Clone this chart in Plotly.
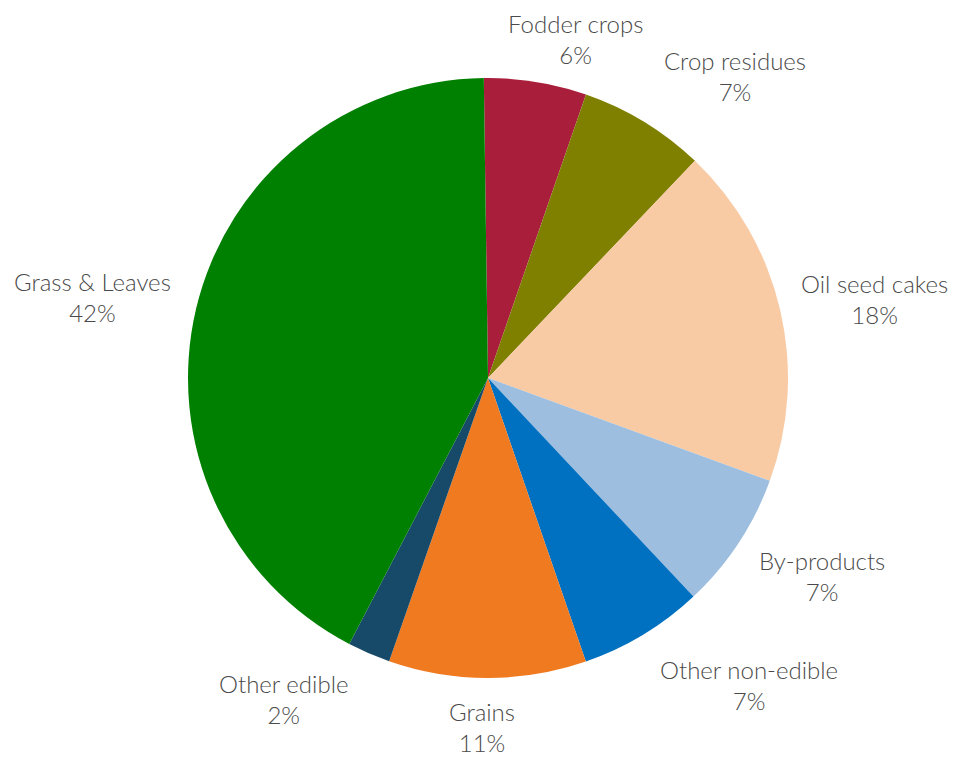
import math
import plotly.graph_objects as go

categories = ["Fodder crops", "Crop residues", "Oil seed cakes", "By-products",
              "Other non-edible", "Grains", "Other edible", "Grass & Leaves"]
values = [5.5, 6.8, 18.4, 7.4, 6.7, 10.6, 2.3, 42.0]
colors = ["#A91E3B", "#808000", "#F8CBA5", "#9DBEDF",
          "#0070C0", "#F07A20", "#174A68", "#008000"]

# label placement (layout only): radius from centre and pixel nudges
label_radius = 380
label_nudges = [(27, 36), (49, 23), (16, 8), (17, -11),
                (65, -18), (-5, -31), (-54, -28), (-26, 7)]

W, H = 960, 757
cx, cy, R = 480, 370, 300
rotation = -0.8

fig = go.Figure(go.Pie(
    labels=categories,
    values=values,
    sort=False,
    direction="clockwise",
    rotation=rotation,
    marker=dict(colors=colors, line=dict(width=0)),
    textinfo="none",
    domain=dict(x=[(cx - R) / W, (cx + R) / W], y=[(H - cy - R) / H, (H - cy + R) / H]),
    hoverinfo="label+percent",
))

total = sum(values)
cum = 0.0
annotations = []
for name, v, (nx, ny) in zip(categories, values, label_nudges):
    mid = math.radians(rotation) + (cum + v / 2) / total * 2 * math.pi
    cum += v
    px = cx + label_radius * math.sin(mid) + nx
    py = cy - label_radius * math.cos(mid) + ny
    pct = round(v / total * 100)
    annotations.append(dict(
        x=px / W, y=1 - py / H, xref="paper", yref="paper",
        xanchor="center", yanchor="middle",
        text=f"{name}<br>{pct}%", showarrow=False, align="center",
        borderpad=0,
        font=dict(family="Lato", size=24, color="#4a4a4a", weight=300),
    ))

fig.update_layout(
    width=W, height=H,
    margin=dict(l=0, r=0, t=0, b=0),
    showlegend=False,
    paper_bgcolor="white",
    plot_bgcolor="white",
    annotations=annotations,
)

fig.write_html("out.html")
